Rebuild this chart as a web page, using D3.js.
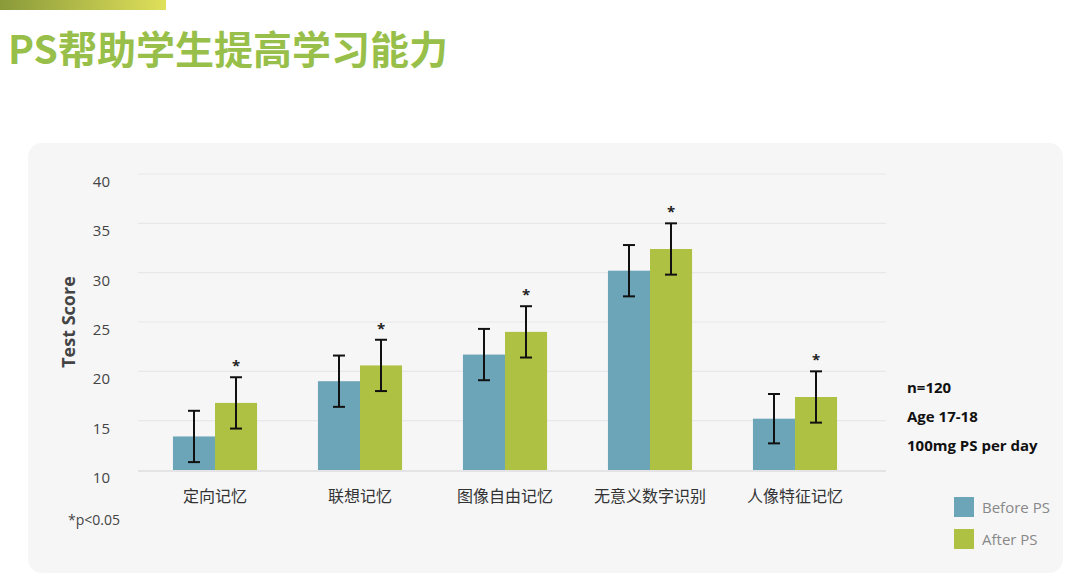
<!DOCTYPE html>
<html><head><meta charset="utf-8">
<script src="https://cdn.jsdelivr.net/npm/d3@7"></script>
<style>body{margin:0;background:#fff;font-family:"Open Sans","Noto Sans CJK SC",sans-serif}</style>
</head><body>
<svg width="1080" height="586"></svg>
<script>
const categories = ['定向记忆', '联想记忆', '图像自由记忆', '无意义数字识别', '人像特征记忆'];
const beforePS = [13.4, 19.0, 21.7, 30.2, 15.2];
const afterPS = [16.8, 20.6, 24.0, 32.4, 17.4];
const beforeErr = [2.6, 2.6, 2.6, 2.6, 2.5];
const afterErr = [2.6, 2.6, 2.6, 2.6, 2.6];
const yTicks = [10, 15, 20, 25, 30, 35, 40];
const notes = ['n=120', 'Age 17-18', '100mg PS per day'];
const cjk = '"Noto Sans CJK SC",sans-serif';

const svg = d3.select('svg');
const defs = svg.append('defs');
const grad = defs.append('linearGradient').attr('id', 'topbar');
grad.append('stop').attr('offset', '0%').attr('stop-color', '#8a9a3a');
grad.append('stop').attr('offset', '100%').attr('stop-color', '#dfe05a');
svg.append('rect').attr('x', 0).attr('y', 0).attr('width', 166).attr('height', 10).attr('fill', 'url(#topbar)');

svg.append('text').attr('x', 8).attr('y', 64).attr('fill', '#98bf4a')
    .attr('font-size', 39).attr('font-weight', 'bold').attr('font-family', cjk)
    .text('PS帮助学生提高学习能力');

// 背景面板
svg.append('rect').attr('x', 28).attr('y', 143).attr('width', 1035).attr('height', 430)
    .attr('rx', 14).attr('fill', '#f6f6f7');

const y = d3.scaleLinear().domain([10, 40]).range([470, 174]);
const x = d3.scaleBand().domain(categories).range([142.5, 867.5]).paddingInner(0.42).paddingOuter(0.21);
const sub = d3.scaleBand().domain([0, 1]).range([0, x.bandwidth()]);

const g = svg.append('g');
g.selectAll('.grid').data(yTicks.slice(1)).enter().append('line')
    .attr('x1', 138).attr('x2', 886).attr('y1', d => y(d)).attr('y2', d => y(d))
    .attr('stroke', '#e8e8ea').attr('stroke-width', 1.2);
g.append('line').attr('x1', 138).attr('x2', 886).attr('y1', y(10) + 1).attr('y2', y(10) + 1)
    .attr('stroke', '#e4e4e6').attr('stroke-width', 2);

g.selectAll('.yl').data(yTicks).enter().append('text')
    .attr('x', 110).attr('y', d => y(d) + 13).attr('text-anchor', 'end')
    .attr('font-size', 15).attr('fill', '#444').text(d => d);

g.append('text').attr('transform', `translate(75,${y(25)}) rotate(-90)`)
    .attr('text-anchor', 'middle').attr('font-size', 18).attr('font-weight', 'bold')
    .attr('fill', '#444').text('Test Score');

const series = [
    { vals: beforePS, err: beforeErr, color: '#6ba5b7' },
    { vals: afterPS, err: afterErr, color: '#afc142' }
];
series.forEach((s, si) => {
    const cx = (d, i) => x(categories[i]) + sub(si) + sub.bandwidth() / 2;
    g.selectAll(null).data(s.vals).enter().append('rect')
        .attr('x', (d, i) => x(categories[i]) + sub(si)).attr('width', sub.bandwidth())
        .attr('y', d => y(d)).attr('height', d => y(10) - y(d)).attr('fill', s.color);
    const eb = g.selectAll(null).data(s.vals).enter().append('g')
        .attr('stroke', '#111').attr('stroke-width', 2);
    eb.append('line').attr('x1', cx).attr('x2', cx)
        .attr('y1', (d, i) => y(d + s.err[i])).attr('y2', (d, i) => y(d - s.err[i]));
    eb.append('line').attr('x1', (d, i) => cx(d, i) - 6).attr('x2', (d, i) => cx(d, i) + 6)
        .attr('y1', (d, i) => y(d + s.err[i])).attr('y2', (d, i) => y(d + s.err[i]));
    eb.append('line').attr('x1', (d, i) => cx(d, i) - 6).attr('x2', (d, i) => cx(d, i) + 6)
        .attr('y1', (d, i) => y(d - s.err[i])).attr('y2', (d, i) => y(d - s.err[i]));
    if (si === 1) {
        g.selectAll(null).data(s.vals).enter().append('text')
            .attr('x', cx).attr('y', (d, i) => y(d + s.err[i]) - 6).attr('text-anchor', 'middle')
            .attr('font-size', 15).attr('font-weight', 'bold').attr('fill', '#222').text('*');
    }
});

g.selectAll('.xl').data(categories).enter().append('text')
    .attr('x', d => x(d) + x.bandwidth() / 2).attr('y', 502).attr('text-anchor', 'middle')
    .attr('font-size', 16).attr('font-family', cjk).attr('fill', '#333').text(d => d);

svg.append('text').attr('x', 68).attr('y', 525).attr('font-size', 14).attr('fill', '#444').text('*p<0.05');

svg.selectAll('.note').data(notes).enter().append('text')
    .attr('x', 907).attr('y', (d, i) => 393 + i * 29).attr('font-size', 15)
    .attr('font-weight', 'bold').attr('fill', '#111').text(d => d);

const legend = [['Before PS', '#6ba5b7'], ['After PS', '#afc142']];
legend.forEach(([t, c], i) => {
    svg.append('rect').attr('x', 954).attr('y', 497 + i * 32).attr('width', 20).attr('height', 20).attr('fill', c);
    svg.append('text').attr('x', 982).attr('y', 513 + i * 32).attr('font-size', 15).attr('fill', '#888').text(t);
});
</script>
</body></html>
